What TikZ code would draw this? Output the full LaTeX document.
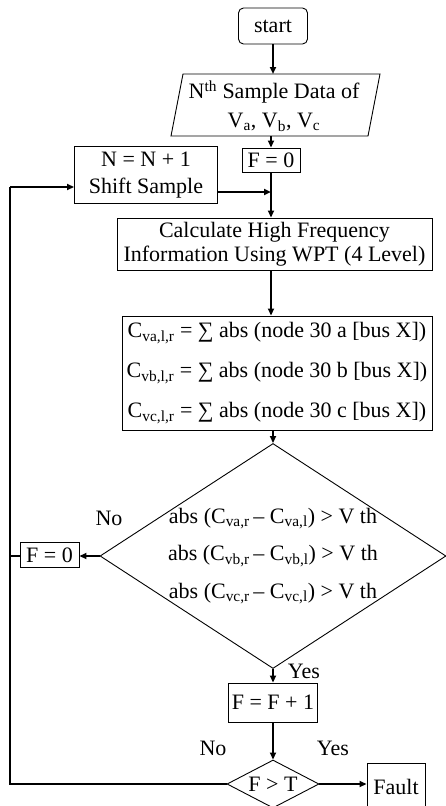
\documentclass[tikz,border=0pt]{standalone}
\usepackage{fontspec}
\setmainfont{Liberation Serif}
\usetikzlibrary{arrows.meta,shapes.geometric}
\newcommand\sbx[1]{\textsubscript{#1}}
\begin{document}
\begin{tikzpicture}[x=1pt,y=-1pt,
  box/.style={draw, line width=0.9pt, inner sep=0pt, align=center, font=\fontsize{22}{26}\selectfont},
  txt/.style={inner sep=0pt, align=center, font=\fontsize{22}{26}\selectfont},
  outline/.style={draw, line width=0.9pt, inner sep=0pt},
  flow/.style={line width=1.8pt, -{Triangle[length=7pt,width=6pt]}},
  link/.style={line width=1.8pt}]
\useasboundingbox (0,0) rectangle (445,806);

% start
\node[box, rounded corners=5pt, minimum width=69, minimum height=36] (start) at (273,26) {start};

% input parallelogram
\coordinate (paraN) at (273,74);
\coordinate (paraS) at (273,136);
\draw[line width=0.9pt] (183,74) -- (380,74) -- (368,136) -- (171,136) -- cycle;
\node[txt, font=\fontsize{22}{29}\selectfont] (para) at (274,106) {N\textsuperscript{th} Sample Data of\\V\sbx{a}, V\sbx{b}, V\sbx{c}};

% F = 0 and shift
\node[box, minimum width=58, minimum height=24] (f0a) at (271,160) {F = 0};
\node[box, minimum width=143, minimum height=57, font=\fontsize{22}{27}\selectfont] (shift) at (146,175) {N = N + 1\\Shift Sample};
\coordinate (j) at (273,192);

% calculation
\node[box, minimum width=315, minimum height=52, font=\fontsize{22}{24}\selectfont] (calc) at (274.5,244) {Calculate High Frequency\\Information Using WPT (4 Level)};

% coefficients
\node[box, minimum width=310, minimum height=114, font=\fontsize{22}{40}\selectfont] (cbox) at (277,373)
 {C\sbx{va,l,r} = ∑ abs (node 30 a [bus X])\\
  C\sbx{vb,l,r} = ∑ abs (node 30 b [bus X])\\
  C\sbx{vc,l,r} = ∑ abs (node 30 c [bus X])};

% decision
\node[outline, diamond, minimum width=346, minimum height=225] (dia) at (273,556) {};
\node[txt, font=\fontsize{22}{37.5}\selectfont] (diatxt) at (273,556)
 {abs (C\sbx{va,r}\,– C\sbx{va,l}) > V th\\
  abs (C\sbx{vb,r}\,– C\sbx{vb,l}) > V th\\
  abs (C\sbx{vc,r}\,– C\sbx{vc,l}) > V th};

\node[box, minimum width=59, minimum height=25] (f0b) at (49.5,555) {F = 0};
\node[box, minimum width=89, minimum height=39] (finc) at (273,702.5) {F = F + 1};

\node[outline, diamond, minimum width=92, minimum height=48] (dec) at (273,784) {};
\node[txt] (dectxt) at (273,784) {F > T};

\node[box, minimum width=58, minimum height=48] (fault) at (396,787) {Fault};

% labels
\node[txt] (no1) at (109,518) {No};
\node[txt] (yes1) at (304,671) {Yes};
\node[txt] (no2) at (213,748) {No};
\node[txt] (yes2) at (333,748) {Yes};

% loop coordinates
\coordinate (lb) at (10,784);
\coordinate (lt) at (10,187);

% connectors
\draw[flow] (start) -- (paraN);
\draw[flow] (paraS -| f0a) -- (f0a);
\draw[flow] (f0a) -- (f0a |- calc.north);
\draw[flow] (shift.east |- j) -- (j -| f0a);
\draw[flow] (calc.south -| f0a) -- (f0a |- cbox.north);
\draw[flow] (cbox.south -| dia.north) -- (dia.north);
\draw[flow] (dia.west) -- (dia.west -| f0b.east);
\draw[link] (f0b.west |- dia.west) -- (lb |- dia.west);
\draw[flow] (dia.south) -- (finc);
\draw[flow] (finc) -- (dec.north);
\draw[flow] (dec.east) -- (dec.east -| fault.west);
\draw[link] (dec.west) -- (lb) -- (lt);
\draw[flow] (lt) -- (lt -| shift.west);
\end{tikzpicture}
\end{document}
